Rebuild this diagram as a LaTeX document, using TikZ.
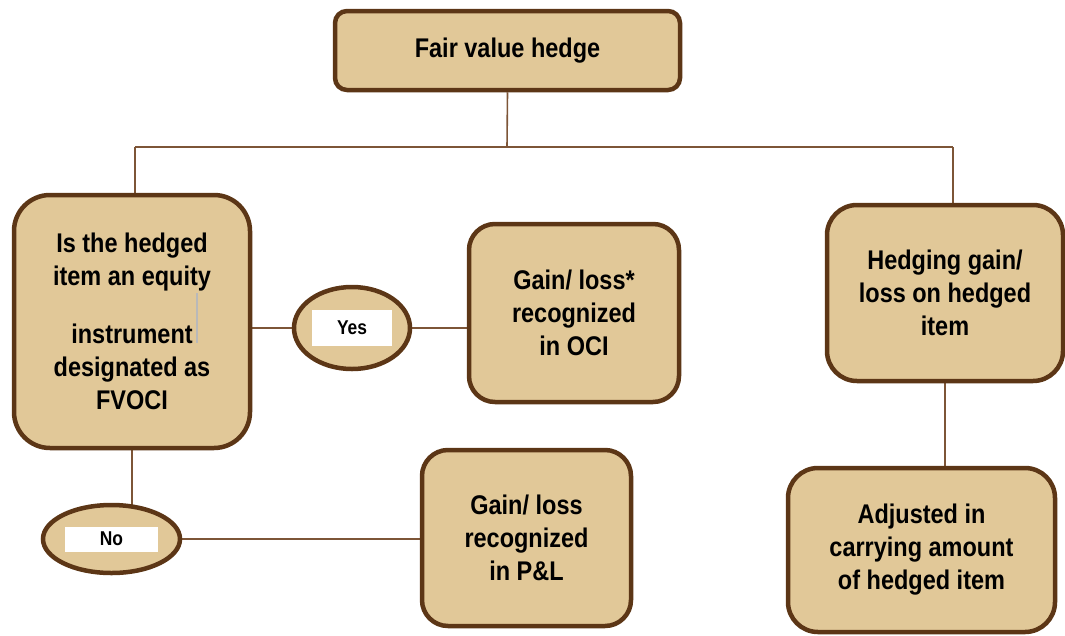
\documentclass[tikz,border=0pt]{standalone}
\usepackage{fontspec}
\setmainfont{Liberation Sans}[FakeStretch=0.87]
\usetikzlibrary{shapes.geometric, backgrounds}
\definecolor{boxfill}{RGB}{225,200,152}
\definecolor{boxline}{RGB}{92,54,22}
\definecolor{linkline}{RGB}{125,85,55}
\tikzset{
  box/.style={draw=boxline, line width=4.5pt, fill=boxfill, align=center,
    inner sep=0pt, font=\fontsize{27}{33}\selectfont\bfseries},
  choice/.style={ellipse, draw=boxline, line width=4.5pt, fill=boxfill, inner sep=0pt},
  tag/.style={fill=white, inner sep=0pt, font=\fontsize{20}{22}\selectfont\bfseries},
  link/.style={draw=linkline, line width=1.6pt}
}
\begin{document}
\begin{tikzpicture}[x=1pt, y=-1pt]
  \useasboundingbox (0,0) rectangle (1065,635);
  % Boxes
  \node[box, rounded corners=12pt, minimum width=345pt, minimum height=79pt] (fvh) at (507.5,50.5) {Fair value hedge};
  \node[box, rounded corners=36pt, minimum width=236pt, minimum height=253pt] (equity) at (132,321.5)
    {Is the hedged\\item an equity\\[25pt]instrument\\designated as\\FVOCI};
  \node[box, rounded corners=26pt, minimum width=210pt, minimum height=178pt] (oci) at (574,313)
    {Gain/ loss*\\recognized\\in OCI};
  \node[box, rounded corners=26pt, minimum width=209pt, minimum height=176pt] (pl) at (526.5,538)
    {Gain/ loss\\recognized\\in P\&L};
  \node[box, rounded corners=30pt, minimum width=236pt, minimum height=176pt] (gainitem) at (945,293)
    {Hedging gain/\\loss on hedged\\item};
  \node[box, rounded corners=30pt, minimum width=267pt, minimum height=164pt] (adjusted) at (921.5,550)
    {Adjusted in\\carrying amount\\of hedged item};
  % Yes / No
  \node[choice, minimum width=116pt, minimum height=82pt] (yes) at (352,328) {};
  \node[tag, minimum width=80pt, minimum height=36pt] (yestag) at (yes) {Yes};
  \node[choice, minimum width=137pt, minimum height=68pt] (no) at (111.5,539) {};
  \node[tag, minimum width=93pt, minimum height=25pt] (notag) at (no) {No};
  % Cursor mark
  \draw[gray!55, line width=2pt] (197,293) -- (197,343);
  % Connectors
  \coordinate (split) at (507,147);
  \coordinate (lefttop) at (135,147);
  \coordinate (righttop) at (953,147);
  \begin{scope}[on background layer]
    \draw[link] (fvh.south) -- (split);
    \draw[link] (lefttop) -- (righttop);
    \draw[link] (lefttop) -- (lefttop |- equity.north);
    \draw[link] (righttop) -- (righttop |- gainitem.north);
    \draw[link] (yes.west -| equity.east) -- (yes.west);
    \draw[link] (yes.east) -- (yes.east -| oci.west);
    \draw[link] (equity.south) -- (equity.south |- no.center);
    \draw[link] (no.east) -- (no.east -| pl.west);
    \draw[link] (gainitem.south) -- (gainitem.south |- adjusted.north);
  \end{scope}
\end{tikzpicture}
\end{document}
